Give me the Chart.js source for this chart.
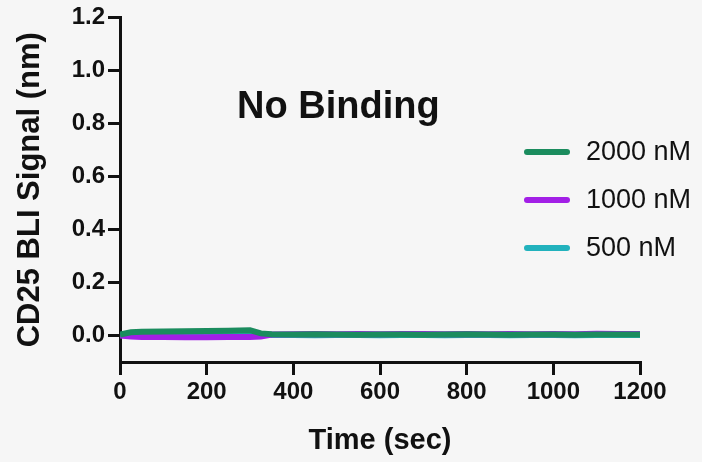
<!DOCTYPE html>
<html>
<head>
<meta charset="utf-8">
<script src="https://cdn.jsdelivr.net/npm/chart.js@4.4.0/dist/chart.umd.min.js"></script>
<style>
  html, body { margin: 0; padding: 0; background: #f6f6f6; }
  #wrap { width: 702px; height: 462px; }
</style>
</head>
<body>
<div id="wrap"><canvas id="myChart" width="702" height="462"></canvas></div>
<script>
// time points (sec)
var times = [0, 25, 50, 100, 150, 200, 250, 300, 325, 350, 400, 450, 500, 550, 600, 650, 700, 750, 800, 850, 900, 950, 1000, 1050, 1100, 1150, 1200];

// BLI signal (nm) per concentration
var nM2000 = [0.004, 0.012, 0.014, 0.015, 0.016, 0.017, 0.018, 0.020, 0.008, 0.005, 0.004, 0.005, 0.004, 0.003, 0.004, 0.004, 0.003, 0.004, 0.005, 0.004, 0.003, 0.004, 0.004, 0.003, 0.004, 0.004, 0.004];
var nM1000 = [0.000, -0.004, -0.006, -0.006, -0.007, -0.007, -0.006, -0.006, -0.004, 0.004, 0.005, 0.006, 0.005, 0.006, 0.005, 0.006, 0.006, 0.005, 0.006, 0.005, 0.006, 0.005, 0.006, 0.005, 0.007, 0.006, 0.006];
var nM500 = [0.002, 0.007, 0.008, 0.009, 0.008, 0.009, 0.010, 0.010, 0.004, 0.002, 0.002, 0.001, 0.002, 0.002, 0.001, 0.002, 0.002, 0.001, 0.002, 0.002, 0.001, 0.002, 0.002, 0.001, 0.002, 0.002, 0.002];

var seriesLabels = ['2000 nM', '1000 nM', '500 nM'];
var seriesColors = ['#1b8c5e', '#a21fe6', '#22b2bd'];

var yTicks = [0, 0.2, 0.4, 0.6, 0.8, 1.0, 1.2];
var xTicks = [0, 200, 400, 600, 800, 1000, 1200];

var FONT = '"Liberation Sans", Arial, Helvetica, sans-serif';

function toPoints(vals) {
  return times.map(function(t, i) { return { x: t, y: vals[i] }; });
}

var bgPlugin = {
  id: 'bg',
  beforeDraw: function(chart) {
    var c = chart.ctx;
    c.save();
    c.fillStyle = '#f6f6f6';
    c.fillRect(0, 0, chart.width, chart.height);
    c.restore();
  }
};

// title text and right side legend
var notesPlugin = {
  id: 'notes',
  afterDraw: function(chart) {
    var c = chart.ctx;
    c.save();
    c.fillStyle = '#111';
    c.font = 'bold 38px ' + FONT;
    c.textAlign = 'left';
    c.textBaseline = 'middle';
    c.fillText('No Binding', 237, 108);

    c.font = '27px ' + FONT;
    for (var i = 0; i < seriesLabels.length; i++) {
      var y = 152 + i * 48;
      c.strokeStyle = seriesColors[i];
      c.lineWidth = 6;
      c.lineCap = 'round';
      c.beginPath();
      c.moveTo(527, y);
      c.lineTo(567, y);
      c.stroke();
      c.fillStyle = '#111';
      c.fillText(seriesLabels[i], 586, y + 1);
    }
    c.restore();
  }
};

var ctx = document.getElementById('myChart').getContext('2d');
var chart = new Chart(ctx, {
  type: 'line',
  data: {
    datasets: [
      { label: seriesLabels[0], data: toPoints(nM2000), borderColor: seriesColors[0], borderWidth: 6, pointRadius: 0 },
      { label: seriesLabels[1], data: toPoints(nM1000), borderColor: seriesColors[1], borderWidth: 6, pointRadius: 0 },
      { label: seriesLabels[2], data: toPoints(nM500), borderColor: seriesColors[2], borderWidth: 6, pointRadius: 0 }
    ]
  },
  options: {
    responsive: false,
    animation: false,
    layout: { padding: { top: 15, right: 62, left: 8, bottom: 0 } },
    plugins: {
      legend: { display: false },
      tooltip: { enabled: false }
    },
    scales: {
      x: {
        type: 'linear',
        min: 0,
        max: 1200,
        afterBuildTicks: function(scale) {
          scale.ticks = xTicks.map(function(v) { return { value: v }; });
        },
        afterFit: function(scale) { scale.height = 100; },
        grid: { drawOnChartArea: false, color: '#111', lineWidth: 3, tickLength: 13 },
        border: { color: '#111', width: 3 },
        ticks: {
          color: '#111',
          font: { family: FONT, size: 24, weight: 'bold' },
          padding: 3, maxRotation: 0, autoSkip: false,
          callback: function(v) { return String(v); }
        },
        title: { display: true, text: 'Time (sec)', color: '#111', font: { family: FONT, size: 29, weight: 'bold' }, padding: { top: 6 } }
      },
      y: {
        min: -0.1,
        max: 1.2,
        afterBuildTicks: function(scale) {
          scale.ticks = yTicks.map(function(v) { return { value: v }; });
        },
        afterFit: function(scale) { scale.width = 112; },
        grid: { drawOnChartArea: false, color: '#111', lineWidth: 3, tickLength: 12 },
        border: { color: '#111', width: 3 },
        ticks: {
          color: '#111',
          font: { family: FONT, size: 24, weight: 'bold' },
          padding: 3,
          callback: function(v) { return Number(v).toFixed(1); }
        },
        title: { display: true, text: 'CD25 BLI Signal (nm)', color: '#111', font: { family: FONT, size: 31, weight: 'bold' }, padding: { bottom: 2 } }
      }
    }
  },
  plugins: [bgPlugin, notesPlugin]
});
</script>
</body>
</html>
